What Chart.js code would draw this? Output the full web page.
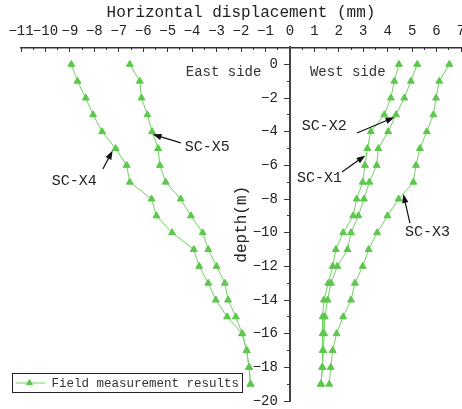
<!DOCTYPE html>
<html><head><meta charset="utf-8">
<script src="https://cdn.jsdelivr.net/npm/chart.js@4/dist/chart.umd.min.js"></script>
<style>html,body{margin:0;padding:0;background:#fff;}#wrap{width:462px;height:409px;position:relative;}</style>
</head><body><div id="wrap"><canvas id="c"></canvas></div>
<script>
// ---- data ----
const depths = [0,-1,-2,-3,-4,-5,-6,-7,-8,-9,-10,-11,-12,-13,-14,-15,-16,-17,-18,-19];
const scX1 = [4.46,4.27,4.13,3.86,3.31,3.17,3.07,2.98,2.73,2.59,2.18,1.88,1.75,1.57,1.39,1.34,1.34,1.34,1.32,1.26];
const scX2 = [5.21,4.95,4.68,4.34,4.02,3.62,3.55,3.25,3.03,2.80,2.50,2.36,1.94,1.68,1.54,1.43,1.40,1.37,1.33,1.28];
const scX3 = [6.52,6.11,5.98,5.87,5.60,5.32,5.16,5.05,4.45,3.99,3.57,3.22,2.98,2.66,2.50,2.18,1.91,1.75,1.67,1.61];
const scX4 = [-8.94,-8.69,-8.35,-8.05,-7.68,-7.13,-6.68,-6.55,-5.66,-5.46,-4.82,-3.93,-3.71,-3.34,-3.03,-2.57,-1.95,-1.77,-1.67,-1.61];
const scX5 = [-6.55,-6.14,-6.07,-5.83,-5.64,-5.39,-5.32,-5.08,-4.47,-4.05,-3.57,-3.34,-3.00,-2.66,-2.53,-2.21,-1.95,-1.77,-1.67,-1.61];
const seriesNames = ['SC-X1','SC-X2','SC-X3','SC-X4','SC-X5'];
const xTickValues = [-11,-10,-9,-8,-7,-6,-5,-4,-3,-2,-1,0,1,2,3,4,5,6,7];
const xMinorValues = [-10.5,-9.5,-8.5,-7.5,-6.5,-5.5,-4.5,-3.5,-2.5,-1.5,-0.5,0.5,1.5,2.5,3.5,4.5,5.5,6.5];
const yTickValues = [0,-2,-4,-6,-8,-10,-12,-14,-16,-18,-20];
const yMinorValues = [-1,-3,-5,-7,-9,-11,-13,-15,-17,-19];
const xTitle = 'Horizontal displacement (mm)';
const yTitle = 'depth(m)';
const legendLabel = 'Field measurement results';
const sideLabels = [{text:'East side', x:-4.26, y:-0.5},{text:'West side', x:0.82, y:-0.5}];
const callouts = [
  {text:'SC-X5', tx:-4.30, ty:-4.91, from:[-4.46,-4.67], to:[-5.62,-4.16]},
  {text:'SC-X4', tx:-9.74, ty:-6.93, from:[-7.65,-6.22], to:[-7.25,-5.12]},
  {text:'SC-X2', tx:0.49, ty:-3.66, from:[2.74,-4.08], to:[4.28,-3.14]},
  {text:'SC-X1', tx:0.29, ty:-6.76, from:[2.13,-6.40], to:[3.09,-5.41]},
  {text:'SC-X3', tx:4.71, ty:-9.97, from:[4.91,-9.43], to:[4.64,-7.70]}
];

const FONT = '"Liberation Mono", monospace';
const GREEN = '#5cc84b';
const LINEGREEN = '#72d062';
const fmt = v => (v < 0 ? '\u2212' + Math.abs(v) : String(v));
const setTicks = vals => (s => { s.ticks = vals.map(v => ({value: v})); });

const allSeries = [scX1, scX2, scX3, scX4, scX5];
const datasets = allSeries.map((arr, i) => ({
  label: seriesNames[i],
  data: arr.map((v, k) => ({x: v, y: depths[k]})),
  showLine: true,
  borderColor: LINEGREEN,
  borderWidth: 1,
  backgroundColor: GREEN,
  pointStyle: 'triangle',
  pointRadius: 4,
  pointBorderColor: GREEN,
  pointBackgroundColor: GREEN,
  pointBorderWidth: 1,
  xAxisID: 'x', yAxisID: 'y'
}));

const overlay = {
  id: 'overlay',
  afterDraw(chart) {
    const {ctx, chartArea: ca, scales: {x, y}} = chart;
    ctx.save();
    // y title
    ctx.fillStyle = '#222';
    ctx.font = '16px ' + FONT;
    ctx.textAlign = 'center'; ctx.textBaseline = 'middle';
    ctx.translate(x.getPixelForValue(0) - 48, (ca.top + ca.bottom) / 2);
    ctx.rotate(-Math.PI / 2);
    ctx.fillText(yTitle, 0, 0);
    ctx.setTransform(1,0,0,1,0,0);
    // side labels
    ctx.font = '14px ' + FONT; ctx.fillStyle = '#333';
    ctx.textAlign = 'left';
    sideLabels.forEach(s => ctx.fillText(s.text, x.getPixelForValue(s.x), y.getPixelForValue(s.y)));
    // callouts
    ctx.font = '15px ' + FONT; ctx.fillStyle = '#222';
    callouts.forEach(c => {
      ctx.fillText(c.text, x.getPixelForValue(c.tx), y.getPixelForValue(c.ty));
      const x1 = x.getPixelForValue(c.from[0]), y1 = y.getPixelForValue(c.from[1]);
      const x2 = x.getPixelForValue(c.to[0]), y2 = y.getPixelForValue(c.to[1]);
      const a = Math.atan2(y2 - y1, x2 - x1);
      const L = 9, W = 3.2;
      ctx.strokeStyle = '#111'; ctx.lineWidth = 1.2;
      ctx.beginPath(); ctx.moveTo(x1, y1); ctx.lineTo(x2 - L * 0.8 * Math.cos(a), y2 - L * 0.8 * Math.sin(a)); ctx.stroke();
      ctx.fillStyle = '#111';
      ctx.beginPath();
      ctx.moveTo(x2, y2);
      ctx.lineTo(x2 - L * Math.cos(a) + W * Math.sin(a), y2 - L * Math.sin(a) - W * Math.cos(a));
      ctx.lineTo(x2 - L * Math.cos(a) - W * Math.sin(a), y2 - L * Math.sin(a) + W * Math.cos(a));
      ctx.closePath(); ctx.fill();
      ctx.fillStyle = '#222';
    });
    // legend
    const lx = ca.left - 8.5, ly = ca.bottom - 27.5, lw = 230, lh = 19;
    ctx.fillStyle = '#fff'; ctx.fillRect(lx, ly, lw, lh);
    ctx.strokeStyle = '#222'; ctx.lineWidth = 1; ctx.strokeRect(lx, ly, lw, lh);
    const my = ly + lh / 2;
    ctx.strokeStyle = LINEGREEN; ctx.beginPath(); ctx.moveTo(lx + 3, my); ctx.lineTo(lx + 33, my); ctx.stroke();
    ctx.fillStyle = GREEN; ctx.strokeStyle = GREEN;
    Chart.helpers.drawPoint(ctx, {pointStyle: 'triangle', radius: 3.5, rotation: 0, borderWidth: 1}, lx + 17, my);
    ctx.fillStyle = '#333'; ctx.font = '12.5px ' + FONT; ctx.textAlign = 'left'; ctx.textBaseline = 'middle';
    ctx.fillText(legendLabel, lx + 39, my + 1);
    ctx.restore();
  }
};

new Chart(document.getElementById('c'), {
  type: 'scatter',
  data: {datasets},
  options: {
    responsive: true, maintainAspectRatio: false, animation: false,
    layout: {autoPadding: false, padding: {top: 3.4, left: 21, right: 1, bottom: 8}},
    plugins: {legend: {display: false}, tooltip: {enabled: false}},
    scales: {
      x: {
        type: 'linear', position: 'top', min: -11, max: 7,
        afterBuildTicks: setTicks(xTickValues),
        ticks: {font: {family: FONT, size: 14}, color: '#222', padding: -5, maxRotation: 0, autoSkip: false, callback: v => fmt(v)},
        grid: {drawOnChartArea: false, drawTicks: true, tickLength: 13.1, tickColor: 'rgba(0,0,0,0)'},
        border: {display: true, color: '#333', width: 1.5},
        title: {display: true, text: xTitle, font: {family: FONT, size: 16}, color: '#222', padding: {top: 0, bottom: 5}}
      },
      xMajor: {
        type: 'linear', axis: 'x', position: {y: 1}, min: -11, max: 7,
        afterBuildTicks: setTicks(xTickValues),
        ticks: {display: false},
        grid: {drawOnChartArea: false, drawTicks: true, tickLength: 5, color: '#333', lineWidth: 1},
        border: {display: false}
      },
      xMinor: {
        type: 'linear', axis: 'x', position: {y: 1}, min: -11, max: 7,
        afterBuildTicks: setTicks(xMinorValues),
        ticks: {display: false},
        grid: {drawOnChartArea: false, drawTicks: true, tickLength: 3, color: '#333', lineWidth: 1},
        border: {display: false}
      },
      y: {
        type: 'linear', position: {x: 0}, min: -20, max: 1,
        afterBuildTicks: setTicks(yTickValues),
        ticks: {display: false},
        grid: {drawOnChartArea: false, drawTicks: true, tickLength: 5, color: '#333', lineWidth: 1},
        border: {display: true, color: '#444', width: 2}
      },
      yLabels: {
        type: 'linear', axis: 'y', position: {x: -0.49}, min: -20, max: 1,
        afterBuildTicks: setTicks(yTickValues),
        ticks: {font: {family: FONT, size: 14}, color: '#222', padding: -9, autoSkip: false, callback: v => fmt(v)},
        grid: {display: false, drawOnChartArea: false, drawTicks: false},
        border: {display: false}
      },
      yMinor: {
        type: 'linear', axis: 'y', position: {x: 0}, min: -20, max: 1,
        afterBuildTicks: setTicks(yMinorValues),
        ticks: {display: false},
        grid: {drawOnChartArea: false, drawTicks: true, tickLength: 3, color: '#333', lineWidth: 1},
        border: {display: false}
      }
    }
  },
  plugins: [overlay]
});
</script>
</body></html>
